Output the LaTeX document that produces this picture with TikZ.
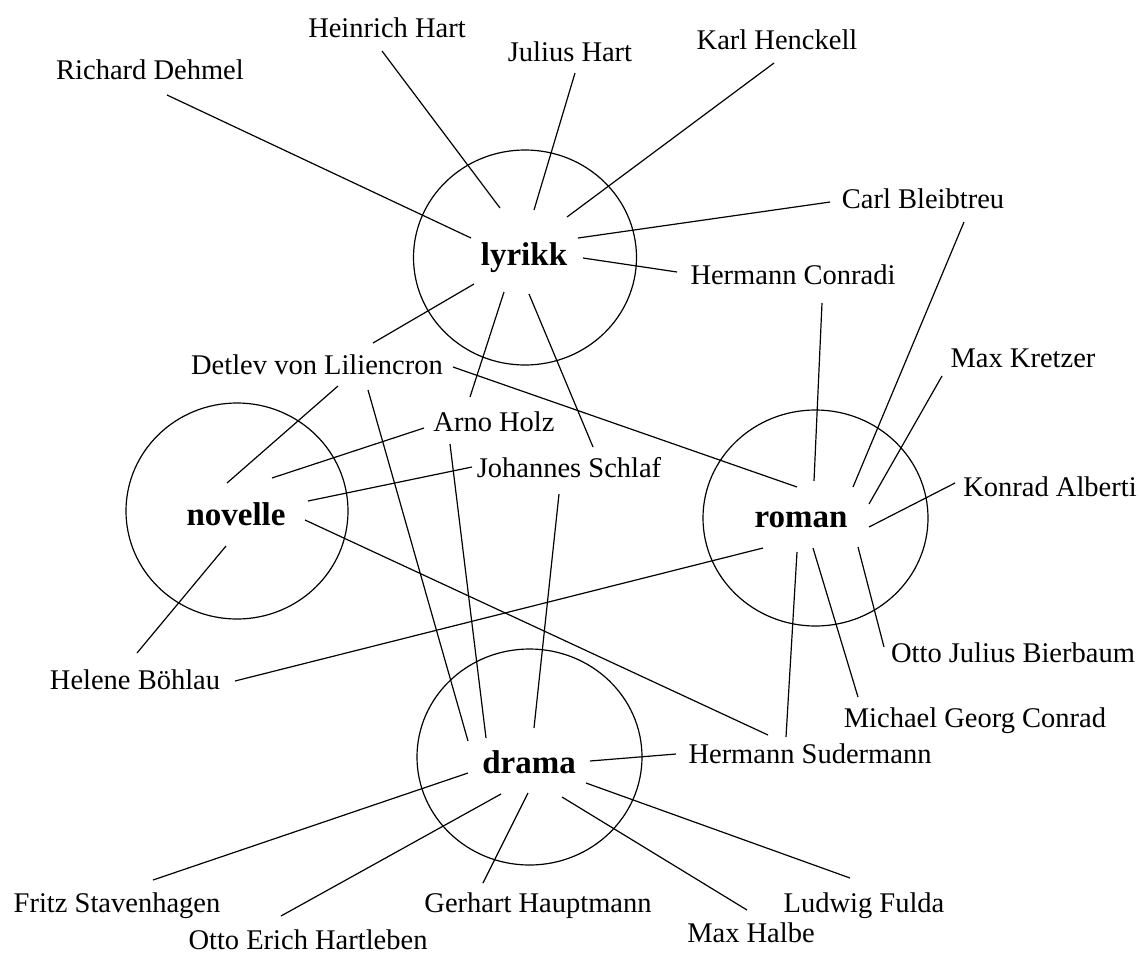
\documentclass[tikz,border=0pt]{standalone}
\usepackage{fontspec}
\setmainfont{Liberation Serif}
\begin{document}
\begin{tikzpicture}[x=1pt,y=-1pt,
  lbl/.style={anchor=base,inner sep=0pt,font=\fontsize{28.5}{30}\selectfont},
  hub/.style={anchor=base,inner sep=0pt,font=\fontsize{33}{36}\selectfont\bfseries},
  ring/.style={line width=1.2pt,black},
  link/.style={line width=1.2pt,black}]
\useasboundingbox (0,0) rectangle (1143,956);
% hubs
\node[hub] (lyrikk) at (524,265) {lyrikk};
\node[hub] (novelle) at (236,525) {novelle};
\node[hub] (roman) at (801,527) {roman};
\node[hub] (drama) at (529,773) {drama};
\draw[ring] (525,257.5) ellipse [x radius=111.5,y radius=107.5];
\draw[ring] (237,511) ellipse [x radius=111,y radius=108];
\draw[ring] (815.5,518) ellipse [x radius=112.5,y radius=108];
\draw[ring] (529.5,757) ellipse [x radius=112.5,y radius=108];
% labels
\node[lbl] (dehmel) at (150,79.5) {Richard Dehmel};
\node[lbl] (hhart) at (387,37.5) {Heinrich Hart};
\node[lbl] (jhart) at (570,61.5) {Julius Hart};
\node[lbl] (henckell) at (777,49.5) {Karl Henckell};
\node[lbl] (bleibtreu) at (923,208.5) {Carl Bleibtreu};
\node[lbl] (conradi) at (793,284.5) {Hermann Conradi};
\node[lbl] (detlev) at (317,374.5) {Detlev von Liliencron};
\node[lbl] (arno) at (494,431) {Arno Holz};
\node[lbl] (schlaf) at (569,477.5) {Johannes Schlaf};
\node[lbl] (helene) at (135,689.5) {Helene Böhlau};
\node[lbl] (kretzer) at (1023,367.5) {Max Kretzer};
\node[lbl] (alberti) at (1050,496.5) {Konrad Alberti};
\node[lbl] (bierbaum) at (1013,662.5) {Otto Julius Bierbaum};
\node[lbl] (mgconrad) at (975,727.5) {Michael Georg Conrad};
\node[lbl] (sudermann) at (810,763.5) {Hermann Sudermann};
\node[lbl] (fritz) at (117,912.5) {Fritz Stavenhagen};
\node[lbl] (hartleben) at (308,949.5) {Otto Erich Hartleben};
\node[lbl] (hauptmann) at (538,912.5) {Gerhart Hauptmann};
\node[lbl] (halbe) at (751,942.5) {Max Halbe};
\node[lbl] (fulda) at (864,912.5) {Ludwig Fulda};
% lyrikk links
\draw[link] ([shift={(17,15.5)}]dehmel.base) -- ([shift={(-53,-27)}]lyrikk.base);
\draw[link] ([shift={(-5,13.5)}]hhart.base) -- ([shift={(-24,-57)}]lyrikk.base);
\draw[link] ([shift={(5,11.5)}]jhart.base) -- ([shift={(10,-55)}]lyrikk.base);
\draw[link] ([shift={(-3,13.5)}]henckell.base) -- ([shift={(43,-48)}]lyrikk.base);
\draw[link] ([shift={(-93,-6.5)}]bleibtreu.base) -- ([shift={(54,-27)}]lyrikk.base);
\draw[link] ([shift={(-116,-12.5)}]conradi.base) -- ([shift={(59,-7)}]lyrikk.base);
\draw[link] ([shift={(56,-31.5)}]detlev.base) -- ([shift={(-50,19)}]lyrikk.base);
\draw[link] ([shift={(-24,-34)}]arno.base) -- ([shift={(-20,27)}]lyrikk.base);
\draw[link] ([shift={(24,-30.5)}]schlaf.base) -- ([shift={(5,29)}]lyrikk.base);
% novelle links
\draw[link] ([shift={(21,11.5)}]detlev.base) -- ([shift={(-9,-42)}]novelle.base);
\draw[link] ([shift={(-70,-3)}]arno.base) -- ([shift={(36,-47)}]novelle.base);
\draw[link] ([shift={(-97,-10.5)}]schlaf.base) -- ([shift={(72,-24)}]novelle.base);
\draw[link] ([shift={(2,-36.5)}]helene.base) -- ([shift={(-10,21)}]novelle.base);
\draw[link] ([shift={(-42,-28.5)}]sudermann.base) -- ([shift={(69,-5)}]novelle.base);
% roman links
\draw[link] ([shift={(136,-7.5)}]detlev.base) -- ([shift={(-4,-40)}]roman.base);
\draw[link] ([shift={(100,-8.5)}]helene.base) -- ([shift={(-38,21)}]roman.base);
\draw[link] ([shift={(29,18.5)}]conradi.base) -- ([shift={(13,-46)}]roman.base);
\draw[link] ([shift={(41,13.5)}]bleibtreu.base) -- ([shift={(52,-40)}]roman.base);
\draw[link] ([shift={(-81,8.5)}]kretzer.base) -- ([shift={(68,-23)}]roman.base);
\draw[link] ([shift={(-95,-13.5)}]alberti.base) -- ([shift={(68,0)}]roman.base);
\draw[link] ([shift={(-129,-15.5)}]bierbaum.base) -- ([shift={(57,20)}]roman.base);
\draw[link] ([shift={(-117,-30.5)}]mgconrad.base) -- ([shift={(12,21)}]roman.base);
\draw[link] ([shift={(-24,-26.5)}]sudermann.base) -- ([shift={(-4,25)}]roman.base);
% drama links
\draw[link] ([shift={(51,15.5)}]detlev.base) -- ([shift={(-61,-32)}]drama.base);
\draw[link] ([shift={(-44,13)}]arno.base) -- ([shift={(-43,-35)}]drama.base);
\draw[link] ([shift={(-10,16.5)}]schlaf.base) -- ([shift={(5,-45)}]drama.base);
\draw[link] ([shift={(-134,-9.5)}]sudermann.base) -- ([shift={(61,-12)}]drama.base);
\draw[link] ([shift={(36,-32.5)}]fritz.base) -- ([shift={(-61,0)}]drama.base);
\draw[link] ([shift={(-27,-33.5)}]hartleben.base) -- ([shift={(-28,21)}]drama.base);
\draw[link] ([shift={(-55,-29.5)}]hauptmann.base) -- ([shift={(-1,20)}]drama.base);
\draw[link] ([shift={(-4,-32.5)}]halbe.base) -- ([shift={(33,24)}]drama.base);
\draw[link] ([shift={(-14,-34.5)}]fulda.base) -- ([shift={(57,10)}]drama.base);
\end{tikzpicture}
\end{document}
